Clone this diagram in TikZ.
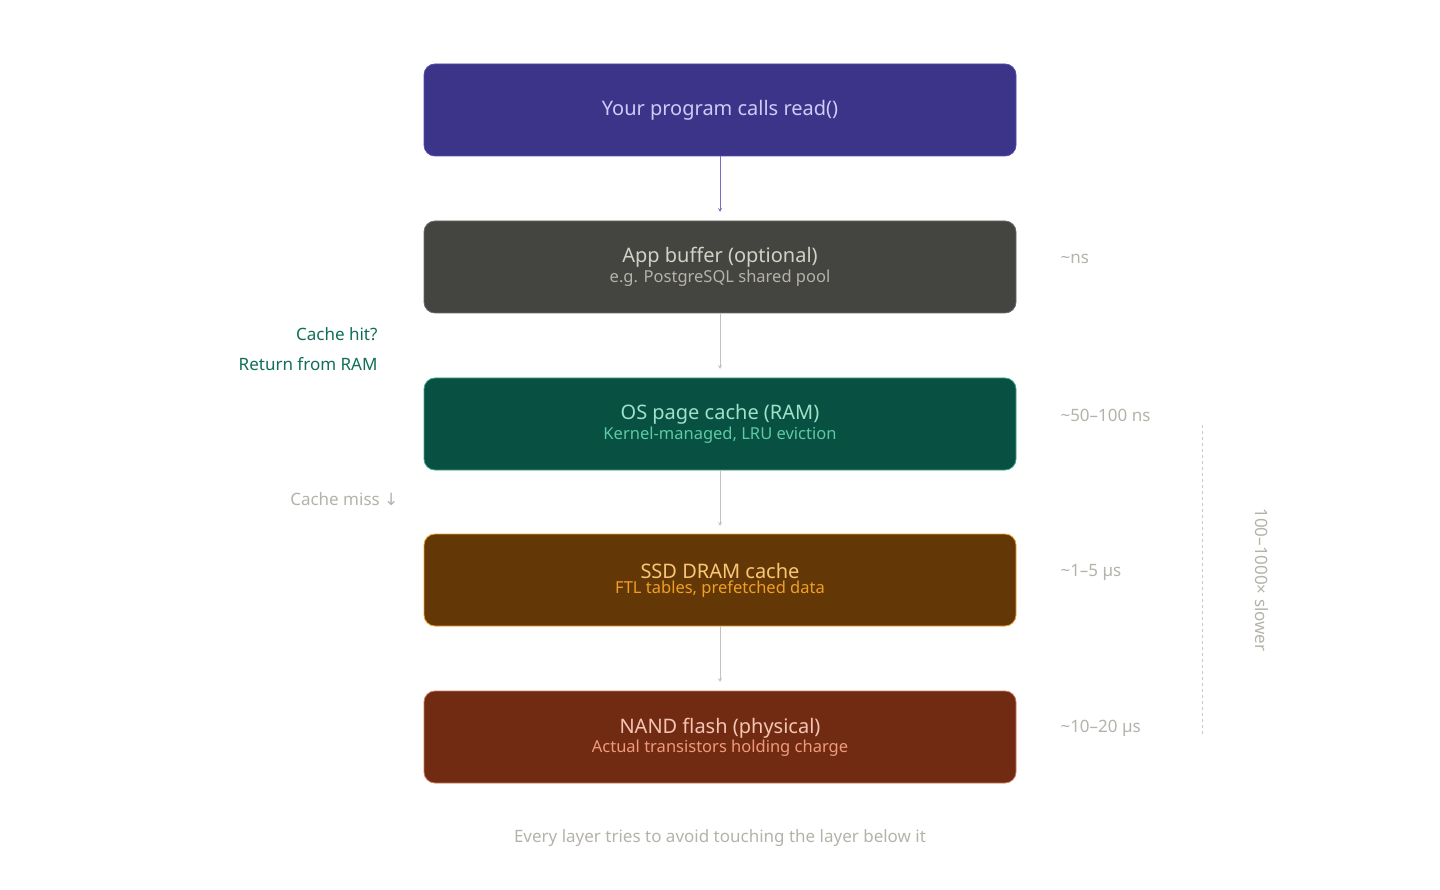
\documentclass[tikz,border=0pt]{standalone}
\usepackage{fontspec}
\setmainfont{Noto Sans}
\newfontfamily\symfont{DejaVu Sans}
\usetikzlibrary{positioning}
\definecolor{purplefill}{HTML}{3C3489}
\definecolor{purpleline}{HTML}{534AB7}
\definecolor{purpletext}{HTML}{CECBF6}
\definecolor{grayfill}{HTML}{444441}
\definecolor{graytext}{HTML}{D3D1C7}
\definecolor{graysub}{HTML}{B4B2A9}
\definecolor{greenfill}{HTML}{085041}
\definecolor{greentext}{HTML}{9FE1CB}
\definecolor{greensub}{HTML}{5DCAA5}
\definecolor{brownfill}{HTML}{633806}
\definecolor{browntext}{HTML}{FAC775}
\definecolor{brownsub}{HTML}{EF9F27}
\definecolor{redfill}{HTML}{712B13}
\definecolor{redtext}{HTML}{F5C4B3}
\definecolor{redsub}{HTML}{F0997B}
\definecolor{hitgreen}{HTML}{0F6E56}
\definecolor{note}{HTML}{B4B2A9}
\tikzset{
 layer/.style={draw, rounded corners=11pt, minimum width=592pt, minimum height=92pt, line width=0.8pt, align=center, inner sep=0pt},
 flow/.style={->, >={stealth}, line width=0.8pt, draw=note!80},
 lat/.style={anchor=west, text=note, font=\fontsize{17}{20}\selectfont},
}
\begin{document}
\begin{tikzpicture}[x=1pt,y=-1pt]
 \useasboundingbox (0,0) rectangle (1440,890);

 \node[layer, fill=purplefill, draw=purpleline, text=purpletext, font=\fontsize{20}{24}\selectfont\bfseries] (prog) at (720,110) {Your program calls read()};
 \node[layer, fill=grayfill, draw=grayfill!80!white, text=graytext] (app) at (720,267)
   {{\fontsize{20}{24}\selectfont\bfseries App buffer (optional)}\\[1pt]{\color{graysub}\fontsize{16.5}{20}\selectfont e.g. PostgreSQL shared pool}};
 \node[layer, fill=greenfill, draw=greensub!70!greenfill, text=greentext] (os) at (720,424)
   {{\fontsize{20}{24}\selectfont\bfseries OS page cache (RAM)}\\[1pt]{\color{greensub}\fontsize{16.5}{20}\selectfont Kernel-managed, LRU eviction}};
 \node[layer, fill=brownfill, draw=brownsub, text=browntext] (ssd) at (720,580)
   {{\fontsize{20}{24}\selectfont\bfseries SSD DRAM cache}\\[1pt]{\color{brownsub}\fontsize{16.5}{20}\selectfont FTL tables, prefetched data}};
 \node[layer, fill=redfill, draw=redsub!70!redfill, text=redtext] (nand) at (720,737)
   {{\fontsize{20}{24}\selectfont\bfseries NAND flash (physical)}\\[1pt]{\color{redsub}\fontsize{16.5}{20}\selectfont Actual transistors holding charge}};

 % arrows between layers
 \draw[flow, draw=purpleline!80!white] (prog) -- ++(0,102);
 \draw[flow] (app) -- ++(0,102);
 \draw[flow] (os) -- ++(0,102);
 \draw[flow] (ssd) -- ++(0,102);

 % side notes
 \node[anchor=east, align=right, text=hitgreen, font=\fontsize{17}{30}\selectfont] (hit) at (381,349) {Cache hit?\\Return from RAM};
 \node[anchor=east, text=note, font=\fontsize{17}{20}\selectfont] (miss) at (402,499) {Cache miss {\symfont ↓}};

 \node[lat] (t1) at (1057,259) {\textasciitilde ns};
 \node[lat] (t2) at (1057,415) {\textasciitilde 50–100 ns};
 \node[lat] (t3) at (1057,572) {\textasciitilde 1–5 µs};
 \node[lat] (t4) at (1057,728) {\textasciitilde 10–20 µs};

 \coordinate (top) at (1202,425);
 \coordinate (bot) at (1202,735);
 \draw[note!70, dashed, line width=0.8pt] (top) -- (bot);
 \node[rotate=-90, text=note, font=\fontsize{17}{20}\selectfont] (slow) at (1262,580) {100–1000× slower};

 \node[text=note, font=\fontsize{17}{20}\selectfont] (caption) at (720,838) {Every layer tries to avoid touching the layer below it};
\end{tikzpicture}
\end{document}
